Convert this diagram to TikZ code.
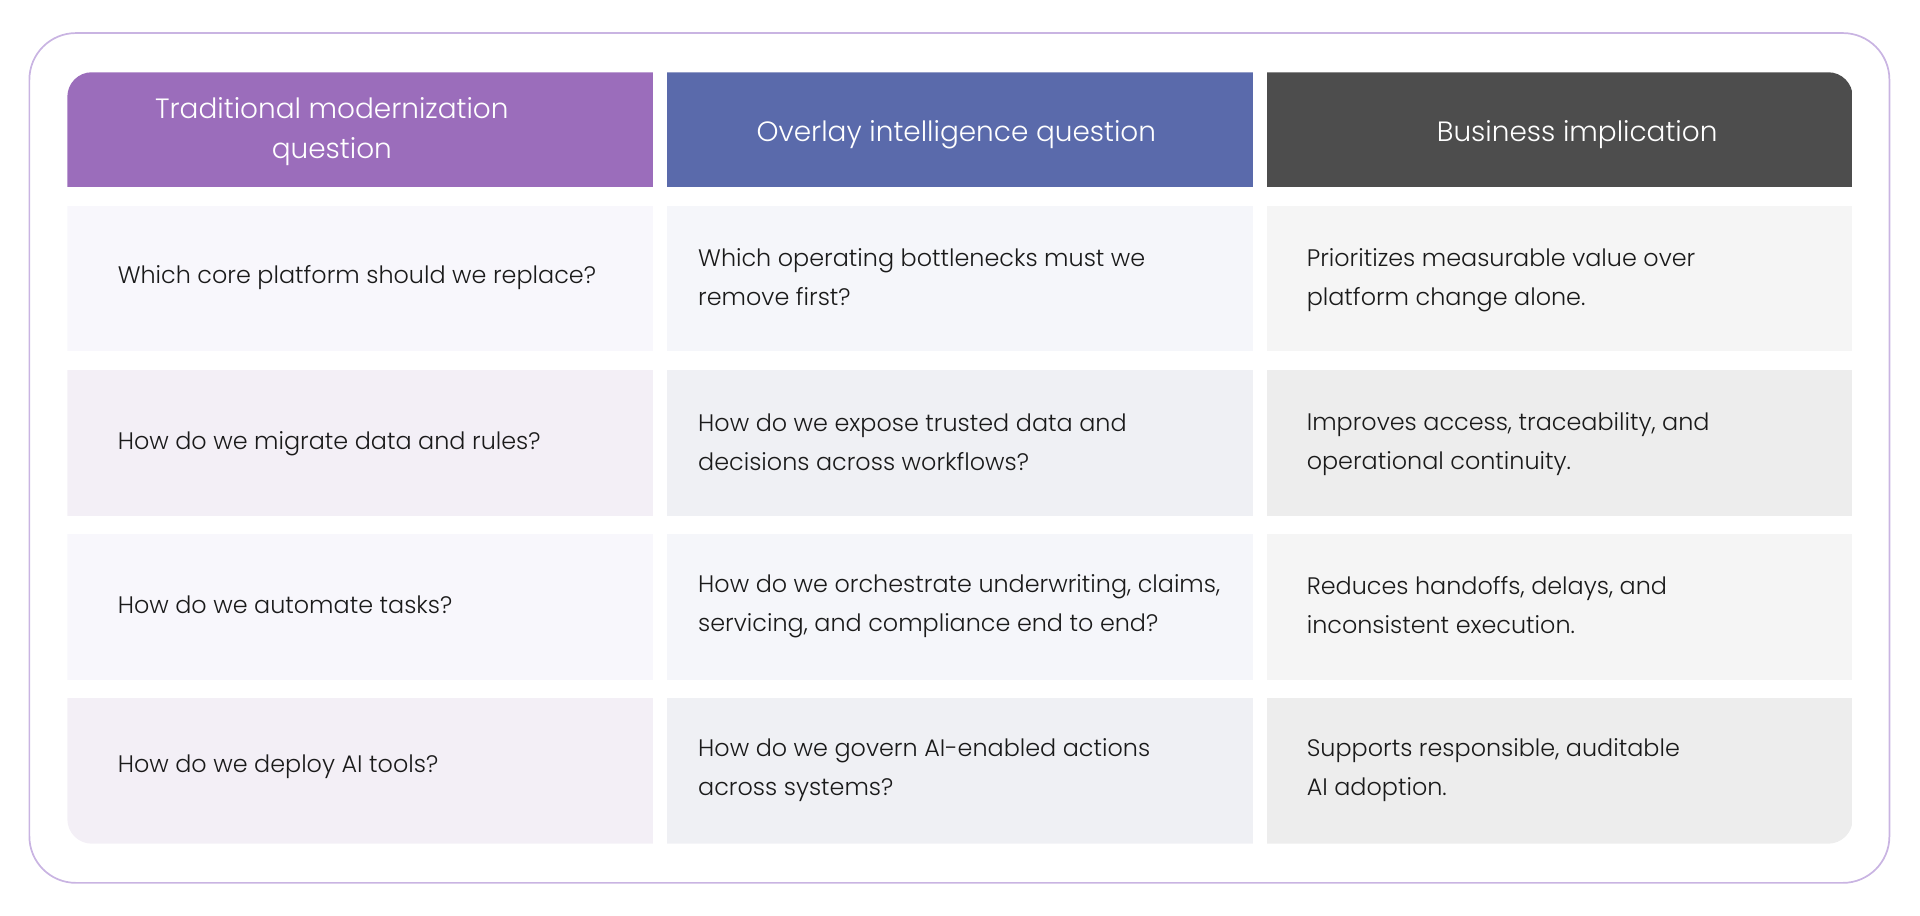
\documentclass[tikz,border=0pt]{standalone}
\usepackage{fontspec}
\setmainfont{Poppins Light}
\usepackage{xcolor}
\usepackage{tikz}

\definecolor{framec}{HTML}{C9B4E2}
\definecolor{headA}{HTML}{9B6DBB}
\definecolor{headB}{HTML}{5A6AAB}
\definecolor{headC}{HTML}{4D4D4D}
\definecolor{rowAodd}{HTML}{F8F7FC}
\definecolor{rowAeven}{HTML}{F3EFF6}
\definecolor{rowBodd}{HTML}{F5F6FA}
\definecolor{rowBeven}{HTML}{EFF0F4}
\definecolor{rowCodd}{HTML}{F5F5F5}
\definecolor{rowCeven}{HTML}{EDEDED}
\definecolor{textc}{HTML}{1A1A1A}

\tikzset{
    cell/.style={minimum width=478, minimum height=119, inner sep=0, outer sep=0},
    head/.style={cell, minimum height=94},
    headtext/.style={text=white, align=center, inner sep=0, font=\fontsize{22.8}{33}\selectfont},
    celltext/.style={anchor=west, align=left, inner sep=0, text=textc, font=\fontsize{19.5}{32}\selectfont}
}

\begin{document}
\begin{tikzpicture}[x=1pt, y=-1pt]
        \useasboundingbox (0,0) rectangle (1568,748);

        % outer frame
        \draw[framec, line width=1.4, rounded corners=38] (24,27) rectangle (1543,721);

        \begin{scope}
        \clip[rounded corners=20] (55,59) rectangle (1513,689);

        % header row
        \node[head, fill=headA] (hA) at (294,106) {};
        \node[head, fill=headB] (hB) at (784,106) {};
        \node[head, fill=headC] (hC) at (1274,106) {};

        % body cells
        \node[cell, fill=rowAodd]  (a1) at (294,227.5) {};
        \node[cell, fill=rowBodd]  (b1) at (784,227.5) {};
        \node[cell, fill=rowCodd]  (c1) at (1274,227.5) {};

        \node[cell, fill=rowAeven] (a2) at (294,361.5) {};
        \node[cell, fill=rowBeven] (b2) at (784,361.5) {};
        \node[cell, fill=rowCeven] (c2) at (1274,361.5) {};

        \node[cell, fill=rowAodd]  (a3) at (294,495.5) {};
        \node[cell, fill=rowBodd]  (b3) at (784,495.5) {};
        \node[cell, fill=rowCodd]  (c3) at (1274,495.5) {};

        \node[cell, fill=rowAeven] (a4) at (294,629.5) {};
        \node[cell, fill=rowBeven] (b4) at (784,629.5) {};
        \node[cell, fill=rowCeven] (c4) at (1274,629.5) {};
        \end{scope}

        % header labels
        \node[headtext] (tA) at (271,107.5) {Traditional modernization\\question};
        \node[headtext] (tB) at (781,110) {Overlay intelligence question};
        \node[headtext] (tC) at (1288,110) {Business implication};

        % row 1
        \node[celltext] (a1t) at (96,227)   {Which core platform should we replace?};
        \node[celltext] (b1t) at (570,226)  {Which operating bottlenecks must we\\remove first?};
        \node[celltext] (c1t) at (1067,229) {Prioritizes measurable value over\\platform change alone.};

        % row 2
        \node[celltext] (a2t) at (96,362)   {How do we migrate data and rules?};
        \node[celltext] (b2t) at (570,361)  {How do we expose trusted data and\\decisions across workflows?};
        \node[celltext] (c2t) at (1067,363) {Improves access, traceability, and\\operational continuity.};

        % row 3
        \node[celltext] (a3t) at (96,494)   {How do we automate tasks?};
        \node[celltext] (b3t) at (570,495)  {How do we orchestrate underwriting, claims,\\servicing, and compliance end to end?};
        \node[celltext] (c3t) at (1067,494) {Reduces handoffs, delays, and\\inconsistent execution.};

        % row 4
        \node[celltext] (a4t) at (96,626)   {How do we deploy AI tools?};
        \node[celltext] (b4t) at (570,629)  {How do we govern AI-enabled actions\\across systems?};
        \node[celltext] (c4t) at (1067,629) {Supports responsible, auditable\\AI adoption.};
\end{tikzpicture}
\end{document}
